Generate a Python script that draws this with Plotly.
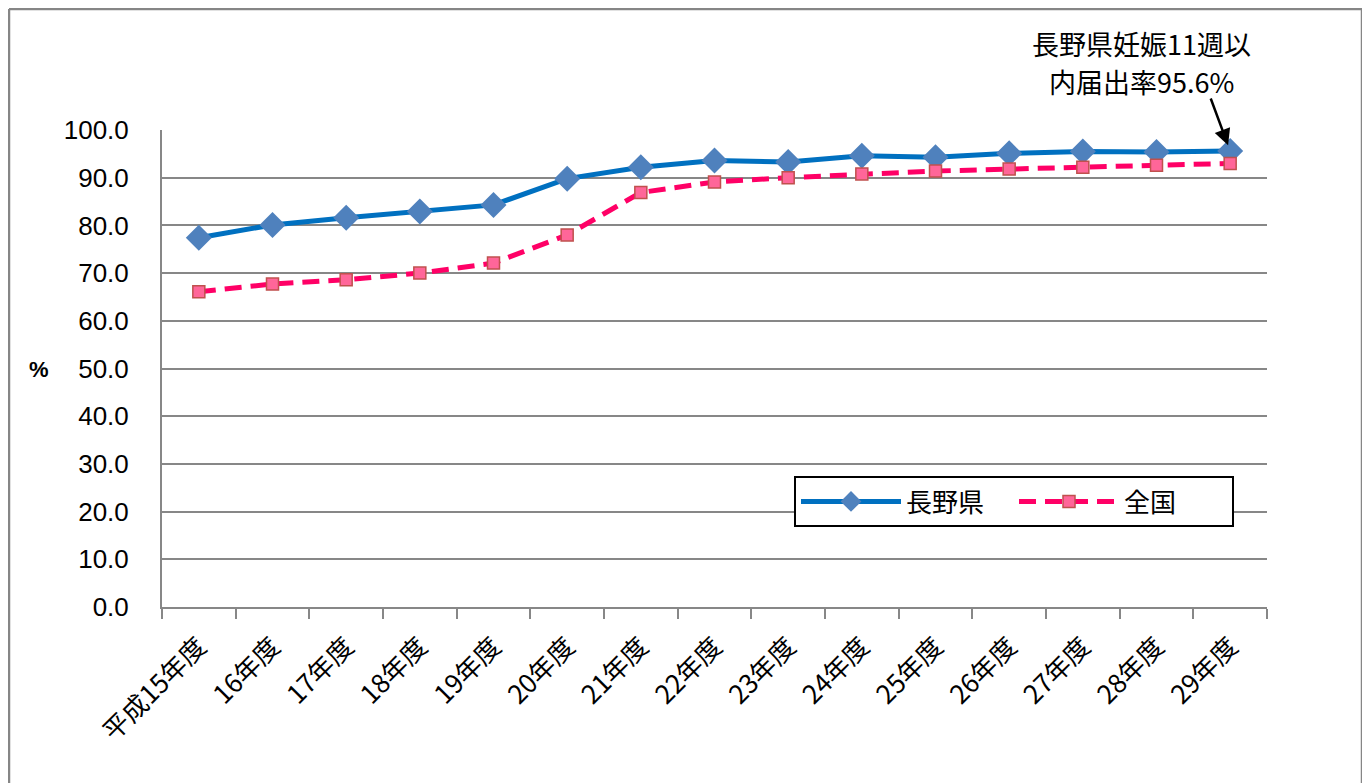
import plotly.graph_objects as go

categories = ["平成15年度", "16年度", "17年度", "18年度", "19年度", "20年度", "21年度",
              "22年度", "23年度", "24年度", "25年度", "26年度", "27年度", "28年度", "29年度"]
nagano = [77.4, 80.1, 81.6, 82.9, 84.3, 89.8, 92.2, 93.6, 93.3, 94.6, 94.3, 95.1, 95.5, 95.4, 95.6]
national = [66.1, 67.7, 68.6, 70.0, 72.1, 78.0, 86.9, 89.1, 90.0, 90.8, 91.4, 91.8, 92.2, 92.6, 93.0]
y_ticks = [0, 10, 20, 30, 40, 50, 60, 70, 80, 90, 100]

GRID = "#878787"
JP = "Noto Sans CJK JP"
OFF = 8  # page body margin

fig = go.Figure()
fig.add_trace(go.Scatter(
    x=categories, y=nagano, name="長野県", mode="lines+markers",
    line=dict(color="#0070C0", width=5),
    marker=dict(symbol="diamond", size=20, color="#4F81BD", line=dict(width=0)),
))
fig.add_trace(go.Scatter(
    x=categories, y=national, name="全国", mode="lines+markers",
    line=dict(color="#FF0066", width=5, dash="17px,9px"),
    marker=dict(symbol="square", size=12, color="#FF6699", line=dict(color="#C0504D", width=1.5)),
))

# plot area on screen: x 162..1267, y 130..607
def px_x(px):
    return (px - 162) / 1105.0

def px_y(py):
    return (607 - py) / 477.0

fig.update_layout(
    width=1370 - OFF, height=783 - OFF,
    margin=dict(l=162 - OFF, r=103, t=130 - OFF, b=176),
    paper_bgcolor="white", plot_bgcolor="white",
    font=dict(family=JP, size=22, color="black"),
    showlegend=True,
    legend=dict(
        orientation="h", x=px_x(794), y=px_y(476), xanchor="left", yanchor="top",
        bordercolor="black", borderwidth=2, bgcolor="white",
        font=dict(family=JP, size=26, color="black"),
        itemwidth=100, entrywidth=103, entrywidthmode="pixels",
        traceorder="normal",
    ),
    xaxis=dict(
        type="category", range=[-0.5, len(categories) - 0.5],
        tickson="boundaries", ticks="outside", ticklen=10,
        tickcolor=GRID, tickwidth=2, showline=True, linecolor=GRID, linewidth=2,
        showgrid=False, tickangle=-45, ticklabelstandoff=12,
        tickfont=dict(family=JP, size=26, color="black"),
    ),
    yaxis=dict(
        range=[0, 100], tickvals=y_ticks, tickformat=".1f",
        showgrid=True, gridcolor=GRID, gridwidth=2,
        showline=True, linecolor=GRID, linewidth=2, zeroline=False,
        ticks="", ticklabelstandoff=26,
        tickfont=dict(family="Liberation Sans", size=26, color="black"),
    ),
    annotations=[
        dict(text="<b>%</b>", xref="paper", yref="paper", x=px_x(39), y=px_y(369),
             showarrow=False, font=dict(family="Liberation Sans", size=22, color="black"),
             xanchor="center", yanchor="middle"),
        dict(text="長野県妊娠11週以", xref="paper", yref="paper", x=px_x(1141), y=px_y(43),
             showarrow=False, font=dict(family=JP, size=27, color="black"),
             xanchor="center", yanchor="middle"),
        dict(text="内届出率95.6%", xref="paper", yref="paper", x=px_x(1141), y=px_y(81),
             showarrow=False, font=dict(family=JP, size=27, color="black"),
             xanchor="center", yanchor="middle"),
        dict(text="", x=categories[-1], y=nagano[-1], xref="x", yref="y",
             showarrow=True, ax=-20, ay=-54, arrowhead=2, arrowsize=1.3,
             arrowwidth=2.5, arrowcolor="black", standoff=6),
    ],
    shapes=[
        dict(type="line", xref="paper", yref="paper",
             x0=px_x(9), y0=px_y(9), x1=px_x(1362), y1=px_y(9),
             line=dict(color="#868686", width=2.5)),
        dict(type="line", xref="paper", yref="paper",
             x0=px_x(9), y0=px_y(9), x1=px_x(9), y1=px_y(790),
             line=dict(color="#868686", width=2.5)),
        dict(type="line", xref="paper", yref="paper",
             x0=px_x(1362), y0=px_y(9), x1=px_x(1362), y1=px_y(790),
             line=dict(color="#868686", width=2.5)),
    ],
)

fig.write_html("out.html")
